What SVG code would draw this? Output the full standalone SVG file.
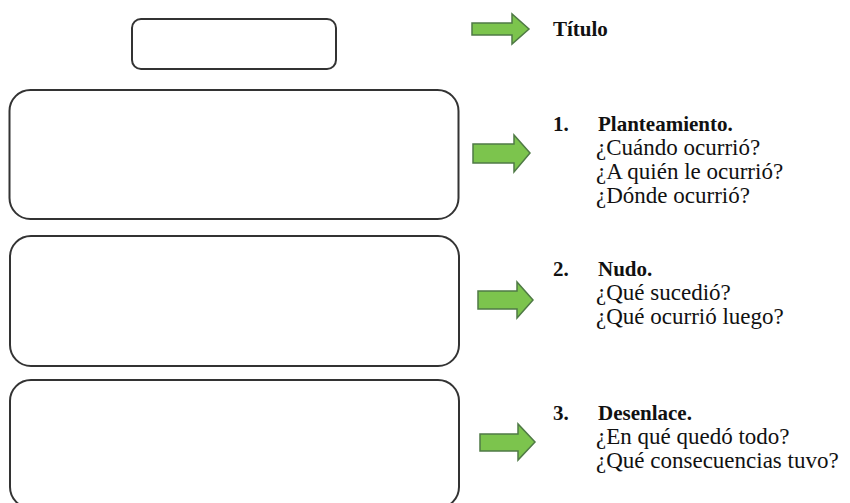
<svg xmlns="http://www.w3.org/2000/svg" width="850" height="503" viewBox="0 0 850 503">
<style>
.box{fill:#fff;stroke:#333;stroke-width:2}
.arr{fill:#7cc44d;stroke:#4f7a45;stroke-width:1.5}
.t{font-family:"Liberation Serif","Times New Roman",serif;font-size:23px;fill:#111}
.b{font-weight:bold;font-size:21px}
</style>
<rect width="850" height="503" fill="#fff"/>
<g id="node-titulo-box"><rect class="box" x="132" y="19" width="204" height="50" rx="9"/></g>
<g id="node-box1"><rect class="box" x="9.5" y="90" width="449" height="129" rx="21"/></g>
<g id="node-box2"><rect class="box" x="10" y="236" width="449" height="130" rx="21"/></g>
<g id="node-box3"><rect class="box" x="10" y="380" width="449" height="128" rx="21"/></g>
<g id="connectors">
<path class="arr" d="M472,23 H512 V14 L529,29 L512,44 V35 H472 Z"/>
<path class="arr" d="M473,144 H514 V135 L530,153 L514,172 V163 H473 Z"/>
<path class="arr" d="M478,291 H517 V282 L533,300 L517,318 V309 H478 Z"/>
<path class="arr" d="M480,434 H518 V424 L535,442 L518,460 V451 H480 Z"/>
</g>
<g id="node-titulo"><text class="t b" x="553" y="36">Título</text></g>
<g id="node-planteamiento">
<text class="t b" x="553" y="131">1.</text>
<text class="t b" x="598" y="131">Planteamiento.</text>
<text class="t" x="596" y="155">¿Cuándo ocurrió?</text>
<text class="t" x="596" y="179">¿A quién le ocurrió?</text>
<text class="t" x="596" y="203">¿Dónde ocurrió?</text>
</g>
<g id="node-nudo">
<text class="t b" x="553" y="276">2.</text>
<text class="t b" x="598" y="276">Nudo.</text>
<text class="t" x="596" y="300">¿Qué sucedió?</text>
<text class="t" x="596" y="324">¿Qué ocurrió luego?</text>
</g>
<g id="node-desenlace">
<text class="t b" x="553" y="420">3.</text>
<text class="t b" x="598" y="420">Desenlace.</text>
<text class="t" x="596" y="444">¿En qué quedó todo?</text>
<text class="t" x="596" y="468">¿Qué consecuencias tuvo?</text>
</g>
</svg>
